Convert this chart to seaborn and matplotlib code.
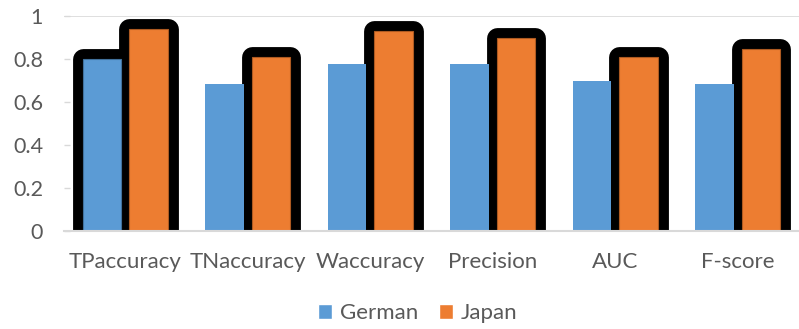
import matplotlib
matplotlib.use("Agg")
import matplotlib.pyplot as plt
from matplotlib.patches import Rectangle
import seaborn as sns
import pandas as pd

# Evaluation metrics for the two credit datasets
metrics = ["TPaccuracy", "TNaccuracy", "Waccuracy", "Precision", "AUC", "F-score"]
german = [0.80, 0.684, 0.777, 0.775, 0.698, 0.682]
japan = [0.941, 0.809, 0.93, 0.90, 0.808, 0.845]
series = ["German", "Japan"]
colors = {"German": "#5B9BD5", "Japan": "#ED7D31"}
edge_colors = {"German": "#41719C", "Japan": "#AE5A21"}
# bars that carry the heavy black border
outlined = {("German", "TPaccuracy")} | {("Japan", m) for m in metrics}

df = pd.DataFrame({
    "metric": metrics * 2,
    "value": german + japan,
    "dataset": ["German"] * len(metrics) + ["Japan"] * len(metrics),
})

sns.set_theme(style="white")
plt.rcParams["font.family"] = ["Lato", "DejaVu Sans"]

fig = plt.figure(figsize=(7.99, 3.29), dpi=100)
ax = fig.add_axes([0.080, 0.298, 0.920, 0.653])

sns.barplot(data=df, x="metric", y="value", hue="dataset", order=metrics,
            hue_order=series, palette=colors, width=0.76, gap=0.174,
            saturation=1, legend=False, ax=ax, zorder=2)

bars = [p for p in ax.patches if isinstance(p, Rectangle)]
n = len(metrics)
for i, bar in enumerate(bars[:2 * n]):
    name = series[i // n]
    metric = metrics[i % n]
    thin = edge_colors[name] if (name, metric) in outlined else "none"
    bar.set_edgecolor(thin)
    bar.set_linewidth(0.8)
    if (name, metric) in outlined:
        halo = Rectangle(bar.get_xy(), bar.get_width(), bar.get_height(),
                         facecolor="black", edgecolor="black", linewidth=15,
                         joinstyle="round", zorder=1)
        ax.add_patch(halo)

ax.set_ylim(0, 1)
ax.set_xlim(-0.5, n - 0.5)
ax.set_yticks([0, 0.2, 0.4, 0.6, 0.8, 1])
ax.set_yticklabels(["0", "0.2", "0.4", "0.6", "0.8", "1"])
ax.axhline(1, color="#D9D9D9", lw=1.2, zorder=0)
ax.set_xlabel("")
ax.set_ylabel("")

for side in ("top", "right", "left"):
    ax.spines[side].set_visible(False)
ax.spines["bottom"].set_color("#D9D9D9")
ax.spines["bottom"].set_linewidth(1.5)
ax.spines["bottom"].set_zorder(3)

ax.tick_params(axis="y", which="major", direction="in", length=4, width=1,
               color="#D9D9D9", labelsize=15.5, labelcolor="#595959", pad=15)
ax.tick_params(axis="x", length=0, labelsize=16, labelcolor="#595959", pad=15)
ax.tick_params(axis="y", left=True)

handles = [Rectangle((0, 0), 1, 1, facecolor=colors[s]) for s in series]
fig.legend(handles, series, loc="center", bbox_to_anchor=(0.523, 0.048),
           ncol=2, frameon=False, fontsize=16, labelcolor="#595959",
           handlelength=0.62, handleheight=0.62, handletextpad=0.35,
           columnspacing=0.95)

fig.savefig("out.png", dpi=100)
